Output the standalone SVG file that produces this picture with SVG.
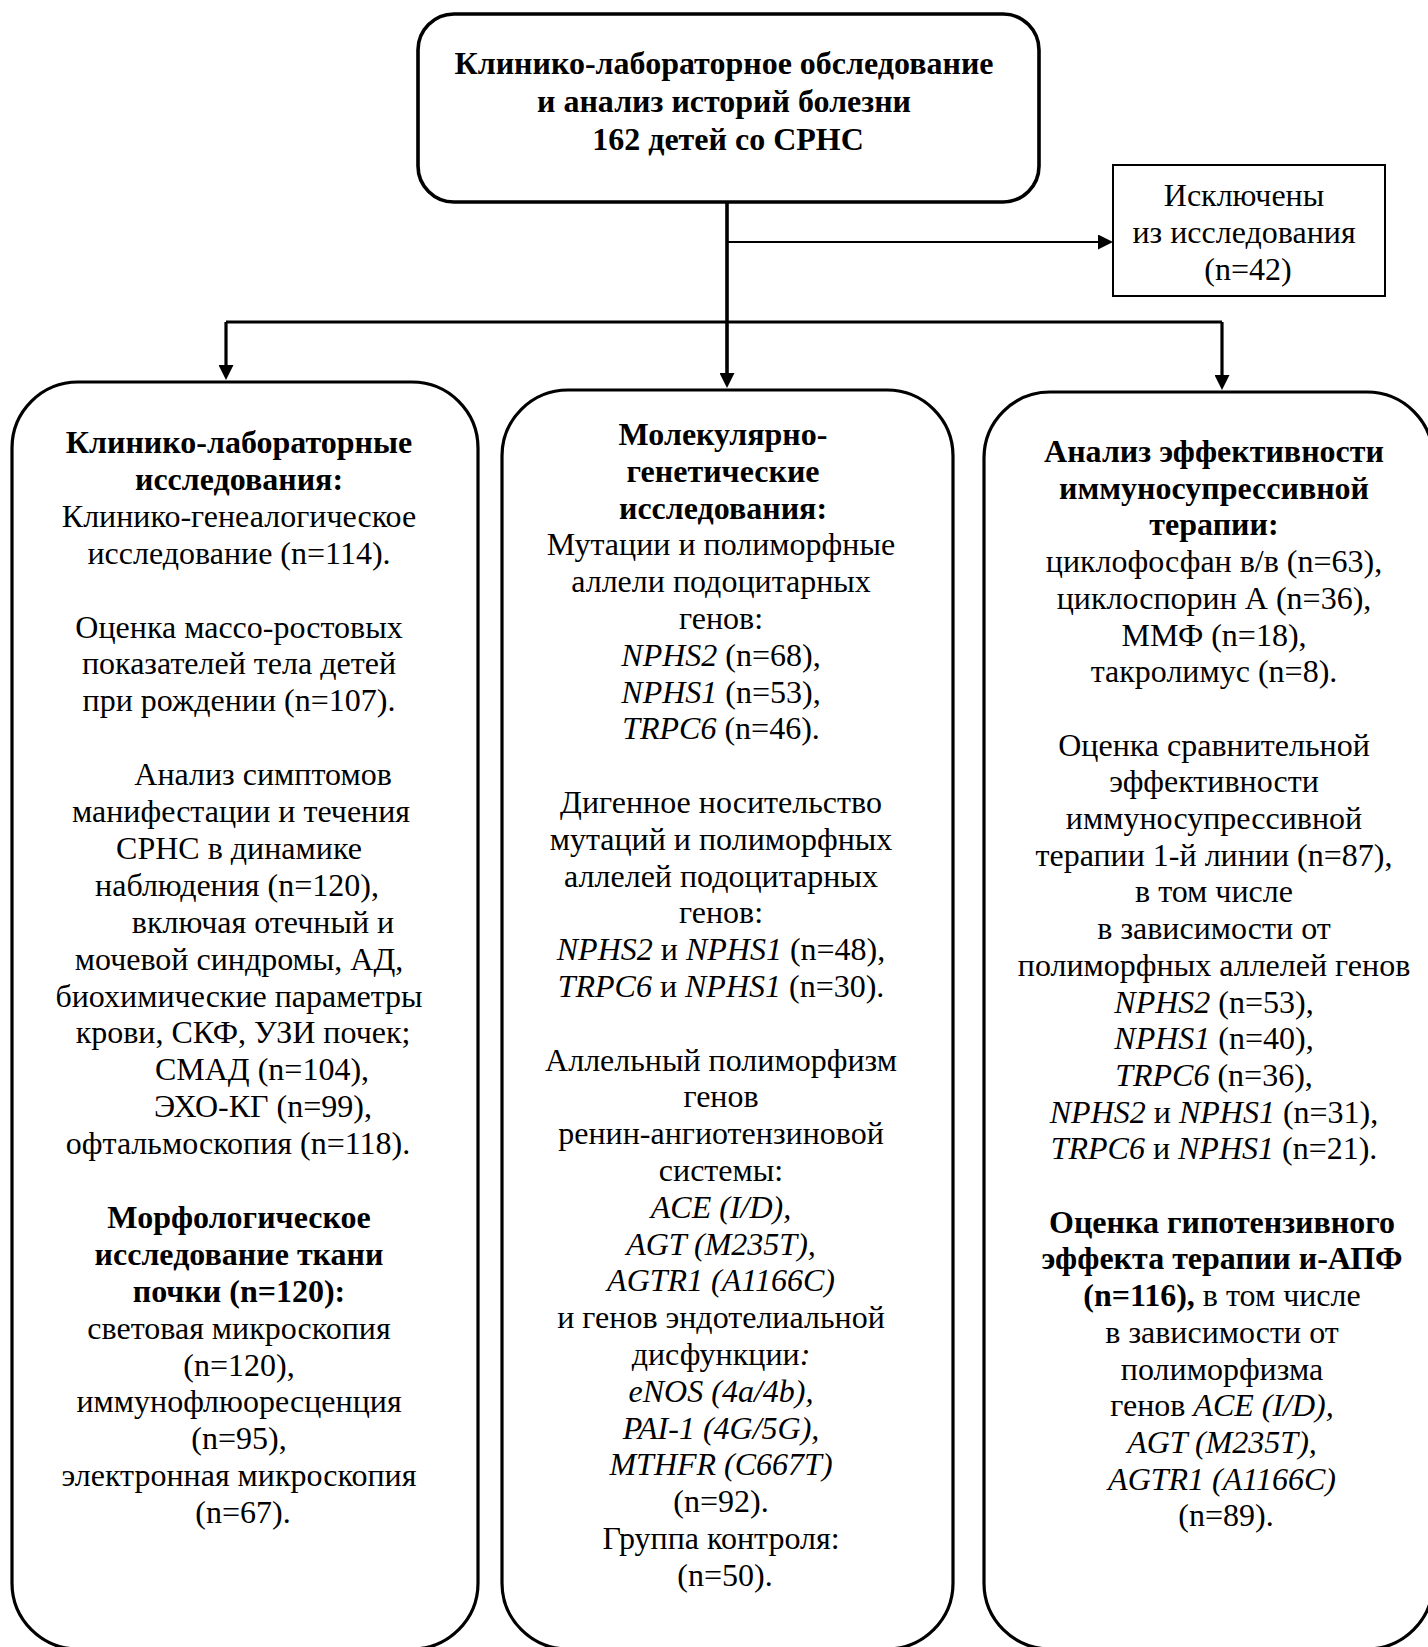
<svg xmlns="http://www.w3.org/2000/svg" width="1428" height="1647" viewBox="0 0 1428 1647">
<style>
  .box { fill: #fff; stroke: #000; stroke-width: 3.2; }
  .top { fill: #fff; stroke: #000; stroke-width: 3.6; }
  .thin { fill: #fff; stroke: #000; stroke-width: 2; }
  text { font-family: "Liberation Serif", "Times New Roman", serif; font-size: 32px; fill: #000; text-anchor: middle; }
  .b { font-weight: bold; }
  .i { font-style: italic; }
  .conn { fill: none; stroke: #000; }
</style>
<defs>
  <marker id="ah" viewBox="0 0 15 15" refX="7" refY="7.5" markerWidth="15" markerHeight="15" markerUnits="userSpaceOnUse" orient="auto">
    <path d="M0,0 L15,7.5 L0,15 Z" fill="#000"/>
  </marker>
</defs>

<g id="connectors">
  <path class="conn" stroke-width="3.6" d="M727,202 V380" marker-end="url(#ah)"/>
  <path class="conn" stroke-width="2" d="M727,242 H1105" marker-end="url(#ah)"/>
  <path class="conn" stroke-width="3.2" d="M226,322 H1222"/>
  <path class="conn" stroke-width="3.2" d="M226,322 V372" marker-end="url(#ah)"/>
  <path class="conn" stroke-width="3.2" d="M1222,322 V382" marker-end="url(#ah)"/>
</g>

<g id="node-main">
  <rect class="top" x="418" y="14" width="621" height="188" rx="36"/>
  <text class="b">
    <tspan x="728" y="74">Клинико-лабораторное обследование</tspan>
    <tspan x="728" y="112">и анализ историй болезни</tspan>
    <tspan x="728" y="150">162 детей со СРНС</tspan>
  </text>
</g>

<g id="node-excluded">
  <rect class="thin" x="1113" y="165" width="272" height="131"/>
  <text>
    <tspan x="1248" y="206">Исключены</tspan>
    <tspan x="1248" y="243">из исследования</tspan>
    <tspan x="1248" y="280">(n=42)</tspan>
  </text>
</g>

<g id="node-clinical">
  <rect class="box" x="12" y="382" width="466" height="1267" rx="66"/>
  <text>
    <tspan class="b" x="243" y="453">Клинико-лабораторные</tspan>
    <tspan class="b" x="243" y="489.9">исследования:</tspan>
    <tspan x="243" y="526.8">Клинико-генеалогическое</tspan>
    <tspan x="243" y="563.7">исследование (n=114).</tspan>
    <tspan x="243" y="637.5">Оценка массо-ростовых</tspan>
    <tspan x="243" y="674.4">показателей тела детей</tspan>
    <tspan x="243" y="711.3">при рождении (n=107).</tspan>
    <tspan x="267" y="785.1">Анализ симптомов</tspan>
    <tspan x="245" y="822">манифестации и течения</tspan>
    <tspan x="243" y="858.9">СРНС в динамике</tspan>
    <tspan x="241" y="895.8">наблюдения (n=120),</tspan>
    <tspan x="267" y="932.7">включая  отечный и</tspan>
    <tspan x="243" y="969.6">мочевой синдромы, АД,</tspan>
    <tspan x="243" y="1006.5">биохимические параметры</tspan>
    <tspan x="247" y="1043.4">крови, СКФ, УЗИ почек;</tspan>
    <tspan x="266" y="1080.3">СМАД (n=104),</tspan>
    <tspan x="267" y="1117.2">ЭХО-КГ (n=99),</tspan>
    <tspan x="242" y="1154.1">офтальмоскопия (n=118).</tspan>
    <tspan class="b" x="243" y="1227.9">Морфологическое</tspan>
    <tspan class="b" x="243" y="1264.8">исследование ткани</tspan>
    <tspan class="b" x="243" y="1301.7">почки (n=120):</tspan>
    <tspan x="243" y="1338.6">световая микроскопия</tspan>
    <tspan x="243" y="1375.5">(n=120),</tspan>
    <tspan x="243" y="1412.4">иммунофлюоресценция</tspan>
    <tspan x="243" y="1449.3">(n=95),</tspan>
    <tspan x="243" y="1486.2">электронная микроскопия</tspan>
    <tspan x="243" y="1523.1">(n=67).</tspan>
  </text>
</g>

<g id="node-genetic">
  <rect class="box" x="502" y="390" width="451" height="1259" rx="66"/>
  <text>
    <tspan class="b" x="727" y="445">Молекулярно-</tspan>
    <tspan class="b" x="727" y="481.8">генетические</tspan>
    <tspan class="b" x="727" y="518.6">исследования:</tspan>
    <tspan x="725" y="555.4">Мутации и полиморфные</tspan>
    <tspan x="725" y="592.2">аллели подоцитарных</tspan>
    <tspan x="725" y="629">генов:</tspan>
    <tspan x="725" y="665.8"><tspan class="i">NPHS2</tspan> (n=68),</tspan>
    <tspan x="725" y="702.6"><tspan class="i">NPHS1</tspan> (n=53),</tspan>
    <tspan x="725" y="739.4"><tspan class="i">TRPC6</tspan> (n=46).</tspan>
    <tspan x="725" y="813">Дигенное носительство</tspan>
    <tspan x="725" y="849.8">мутаций и полиморфных</tspan>
    <tspan x="725" y="886.6">аллелей подоцитарных</tspan>
    <tspan x="725" y="923.4">генов:</tspan>
    <tspan x="725" y="960.2"><tspan class="i">NPHS2</tspan> и <tspan class="i">NPHS1</tspan> (n=48),</tspan>
    <tspan x="725" y="997"><tspan class="i">TRPC6</tspan> и <tspan class="i">NPHS1</tspan> (n=30).</tspan>
    <tspan x="725" y="1070.6">Аллельный полиморфизм</tspan>
    <tspan x="725" y="1107.4">генов</tspan>
    <tspan x="725" y="1144.2">ренин-ангиотензиновой</tspan>
    <tspan x="725" y="1181">системы:</tspan>
    <tspan class="i" x="725" y="1217.8">ACE (I/D),</tspan>
    <tspan class="i" x="725" y="1254.6">AGT (M235T),</tspan>
    <tspan class="i" x="725" y="1291.4">AGTR1 (A1166C)</tspan>
    <tspan x="725" y="1328.2">и генов эндотелиальной</tspan>
    <tspan x="725" y="1365">дисфункции<tspan class="i">:</tspan></tspan>
    <tspan class="i" x="725" y="1401.8">eNOS (4a/4b),</tspan>
    <tspan class="i" x="725" y="1438.6">PAI-1 (4G/5G),</tspan>
    <tspan class="i" x="725" y="1475.4">MTHFR (C667T)</tspan>
    <tspan x="725" y="1512.2">(n=92).</tspan>
    <tspan x="725" y="1549">Группа контроля:</tspan>
    <tspan x="725" y="1585.8">(n=50).</tspan>
  </text>
</g>

<g id="node-therapy">
  <rect class="box" x="984" y="392" width="449" height="1257" rx="66"/>
  <text>
    <tspan class="b" x="1218" y="462">Анализ эффективности</tspan>
    <tspan class="b" x="1218" y="498.7">иммуносупрессивной</tspan>
    <tspan class="b" x="1218" y="535.4">терапии:</tspan>
    <tspan x="1218" y="572.1">циклофосфан в/в (n=63),</tspan>
    <tspan x="1218" y="608.8">циклоспорин А (n=36),</tspan>
    <tspan x="1218" y="645.5">ММФ (n=18),</tspan>
    <tspan x="1218" y="682.2">такролимус (n=8).</tspan>
    <tspan x="1218" y="755.6">Оценка сравнительной</tspan>
    <tspan x="1218" y="792.3">эффективности</tspan>
    <tspan x="1218" y="829">иммуносупрессивной</tspan>
    <tspan x="1218" y="865.7">терапии 1-й линии (n=87),</tspan>
    <tspan x="1218" y="902.4">в том числе</tspan>
    <tspan x="1218" y="939.1">в зависимости от</tspan>
    <tspan x="1218" y="975.8">полиморфных аллелей генов</tspan>
    <tspan x="1218" y="1012.5"><tspan class="i">NPHS2</tspan> (n=53),</tspan>
    <tspan x="1218" y="1049.2"><tspan class="i">NPHS1</tspan> (n=40),</tspan>
    <tspan x="1218" y="1085.9"><tspan class="i">TRPC6</tspan> (n=36),</tspan>
    <tspan x="1218" y="1122.6"><tspan class="i">NPHS2</tspan> и <tspan class="i">NPHS1</tspan> (n=31),</tspan>
    <tspan x="1218" y="1159.3"><tspan class="i">TRPC6</tspan> и <tspan class="i">NPHS1</tspan> (n=21).</tspan>
    <tspan class="b" x="1226" y="1232.7">Оценка гипотензивного</tspan>
    <tspan class="b" x="1226" y="1269.4">эффекта терапии и-АПФ</tspan>
    <tspan x="1226" y="1306.1"><tspan class="b">(n=116),</tspan> в том числе</tspan>
    <tspan x="1226" y="1342.8">в зависимости от</tspan>
    <tspan x="1226" y="1379.5">полиморфизма</tspan>
    <tspan x="1226" y="1416.2">генов <tspan class="i">ACE (I/D),</tspan></tspan>
    <tspan class="i" x="1226" y="1452.9">AGT (M235T),</tspan>
    <tspan class="i" x="1226" y="1489.6">AGTR1 (A1166C)</tspan>
    <tspan x="1226" y="1526.3">(n=89).</tspan>
  </text>
</g>
</svg>
